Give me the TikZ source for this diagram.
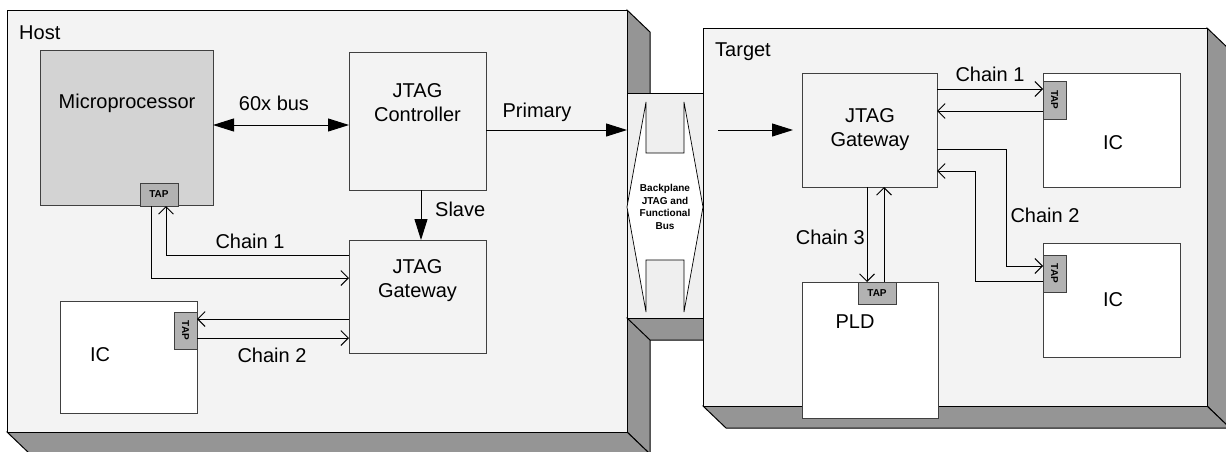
\documentclass[tikz,border=0pt]{standalone}
\usepackage{fontspec}
\setmainfont{Liberation Sans}
\usetikzlibrary{arrows.meta,calc}
\definecolor{hostfill}{HTML}{F3F3F3}
\definecolor{sidegray}{HTML}{959595}
\definecolor{mpgray}{HTML}{D3D3D3}
\definecolor{tapgray}{HTML}{B2B2B2}
\definecolor{bpfill}{HTML}{EFEFEF}
\definecolor{edgec}{HTML}{404040}
\begin{document}
\begin{tikzpicture}[x=1pt,y=-1pt,
  box/.style={draw=edgec, line width=1pt, anchor=north west, inner sep=0pt, outer sep=0pt},
  tapbox/.style={box, fill=tapgray},
  lbl/.style={font=\fontsize{20}{24}\selectfont, align=center, inner sep=0pt},
  taplbl/.style={font=\fontsize{10}{12}\selectfont\bfseries, inner sep=0pt},
  bplbl/.style={font=\fontsize{10}{12.5}\selectfont\bfseries, align=center, inner sep=0pt},
  face/.style={fill=hostfill, draw=black, line width=1pt},
  side/.style={fill=sidegray, draw=black, line width=1pt},
  chain/.style={line width=0.9pt, -{Straight Barb[length=7.5pt,width=15pt]}},
  bigarr/.style={line width=1pt, -{Triangle[length=21pt,width=13pt]}},
  dblarr/.style={line width=1pt, {Triangle[length=21pt,width=13pt]}-{Triangle[length=21pt,width=13pt]}},
]
\clip (0,0) rectangle (1226,451);
\fill[white] (0,0) rectangle (1226,451);

% ---------- Host container ----------
\draw[side] (627,10) -- (650,32) -- (650,454) -- (627,432) -- cycle;
\draw[side] (7,432) -- (627,432) -- (650,454) -- (30,454) -- cycle;
\draw[face] (7,10) rectangle (627,432);
\node[lbl, anchor=base west] (hostl) at (19,39) {Host};

% ---------- Backplane ----------
\draw[side] (627,318) -- (703,318) -- (726,340) -- (650,340) -- cycle;
\node[box, draw=black, fill=bpfill, minimum width=76pt, minimum height=225pt] (bp) at (627,93) {};
\draw[fill=white, draw=black, line width=0.7pt]
  (646,102) -- (646,153) -- (684,153) -- (684,102) -- (703,207) -- (684,312)
  -- (684,260) -- (646,260) -- (646,312) -- (627,207) -- cycle;
\node[bplbl] (bpt) at (665,207) {Backplane\\JTAG and\\Functional\\Bus};

% ---------- Target container ----------
\draw[side] (1207,28) -- (1230,50) -- (1230,428) -- (1207,406) -- cycle;
\draw[side] (703,406) -- (1207,406) -- (1230,428) -- (726,428) -- cycle;
\draw[face] (703,28) rectangle (1207,406);
\node[lbl, anchor=base west] (targl) at (715,56) {Target};

% ---------- Host blocks ----------
\node[box, fill=mpgray, minimum width=173pt, minimum height=155pt] (mp) at (40,50) {};
\node[lbl] (mpt) at (127,103) {Microprocessor};
\node[tapbox, minimum width=38pt, minimum height=23pt] (mptap) at (140,183) {};
\node[taplbl] (mptapt) at (mptap.center) {TAP};

\node[box, fill=hostfill, minimum width=137pt, minimum height=138pt] (ctl) at (349,52) {};
\node[lbl] (ctlt) at (417.5,103) {JTAG\\Controller};

\node[box, fill=hostfill, minimum width=137pt, minimum height=113pt] (hgw) at (349,240) {};
\node[lbl] (hgwt) at (417.5,281) {JTAG\\Gateway};

\node[box, fill=white, minimum width=137pt, minimum height=112pt] (hic) at (60,301) {};
\node[lbl] (hict) at (100,355) {IC};
\node[tapbox, minimum width=23pt, minimum height=37pt] (hictap) at (174,312) {};
\node[taplbl, rotate=-90] (hictapt) at (hictap.center) {TAP};

% ---------- Target blocks ----------
\node[box, fill=hostfill, minimum width=135pt, minimum height=114pt] (tgw) at (802,73) {};
\node[lbl] (tgwt) at (870,130) {JTAG\\Gateway};

\node[box, fill=white, minimum width=137pt, minimum height=114pt] (tic1) at (1043,73) {};
\node[lbl] (tic1t) at (1113,143) {IC};
\node[tapbox, minimum width=23pt, minimum height=38pt] (ttap1) at (1043,81) {};
\node[taplbl, rotate=-90] (ttap1t) at (ttap1.center) {TAP};

\node[box, fill=white, minimum width=137pt, minimum height=114pt] (tic2) at (1043,243) {};
\node[lbl] (tic2t) at (1113,300) {IC};
\node[tapbox, minimum width=23pt, minimum height=37pt] (ttap2) at (1043,255) {};
\node[taplbl, rotate=-90] (ttap2t) at (ttap2.center) {TAP};

\node[box, fill=white, minimum width=136pt, minimum height=136pt] (pld) at (802,282) {};
\node[lbl] (pldt) at (855,322) {PLD};
\node[tapbox, minimum width=38pt, minimum height=22pt] (pldtap) at (858,282) {};
\node[taplbl] (pldtapt) at (pldtap.center) {TAP};

% ---------- helper coordinates ----------
\coordinate (bus) at (0,125);
\coordinate (prim) at (0,130);
\coordinate (slv) at (421,0);
\coordinate (tin) at (718,130);
\coordinate (hc1o) at (151,278);
\coordinate (hc1i) at (166,255);
\coordinate (hc2o) at (0,319);
\coordinate (hc2i) at (0,338);
\coordinate (tc1o) at (0,89);
\coordinate (tc1i) at (0,111);
\coordinate (tc2a) at (0,149);
\coordinate (tc2o) at (1006,266);
\coordinate (tc2i) at (975,281);
\coordinate (tc2b) at (975,171);
\coordinate (tc3o) at (867,0);
\coordinate (tc3i) at (884,0);

% ---------- Connectors ----------
\draw[dblarr] (mp.east |- bus) -- (ctl.west |- bus);
\node[lbl] (busl) at (274,103) {60x bus};
\draw[bigarr] (ctl.east |- prim) -- (bp.west |- prim);
\node[lbl] (priml) at (537,112) {Primary};
\draw[bigarr] (ctl.south -| slv) -- (hgw.north -| slv);
\node[lbl, anchor=west] (slvl) at (435,209) {Slave};
\draw[bigarr] (tin) -- ([xshift=-9pt]tgw.west |- tin);

% host chain 1
\draw[chain] (mptap.south -| hc1o) |- (hgw.west |- hc1o);
\draw[chain] (hgw.west |- hc1i) -| (mptap.south -| hc1i);
\node[lbl] (hc1l) at (250,241) {Chain 1};
% host chain 2
\draw[chain] (hgw.west |- hc2o) -- (hictap.east |- hc2o);
\draw[chain] (hictap.east |- hc2i) -- (hgw.west |- hc2i);
\node[lbl] (hc2l) at (272,355) {Chain 2};

% target chain 1
\draw[chain] (tgw.east |- tc1o) -- (ttap1.west |- tc1o);
\draw[chain] (ttap1.west |- tc1i) -- (tgw.east |- tc1i);
\node[lbl] (tc1l) at (990,74) {Chain 1};
% target chain 2
\draw[chain] (tgw.east |- tc2a) -| (tc2o) -- (ttap2.west |- tc2o);
\draw[chain] (ttap2.west |- tc2i) -- (tc2i) -- (tc2b) -- (tgw.east |- tc2b);
\node[lbl] (tc2l) at (1045,215) {Chain 2};
% target chain 3
\draw[chain] (tgw.south -| tc3o) -- (pldtap.north -| tc3o);
\draw[chain] (pldtap.north -| tc3i) -- (tgw.south -| tc3i);
\node[lbl, anchor=east] (tc3l) at (865,237) {Chain 3};
\end{tikzpicture}
\end{document}
